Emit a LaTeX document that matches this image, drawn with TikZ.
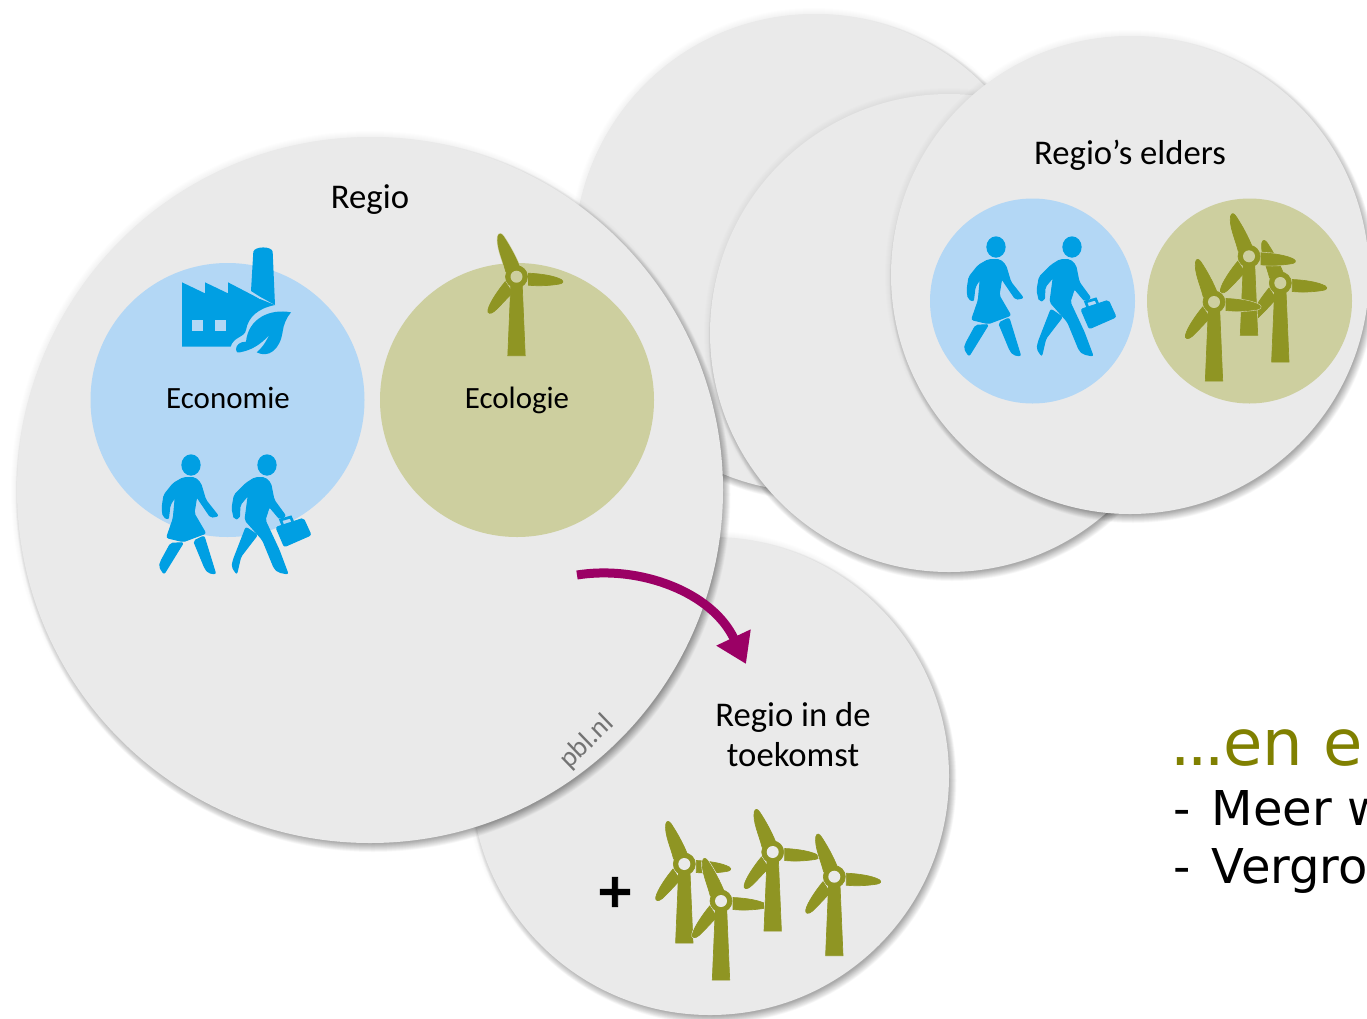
\documentclass[tikz,border=0pt]{standalone}
\usepackage{fontspec}
\setmainfont{Carlito}
\newfontfamily\slidefont{DejaVu Sans}
\newfontfamily\plusfont[BoldFeatures={FakeBold=2}]{DejaVu Sans}
\usepackage{xcolor}
\usetikzlibrary{arrows.meta}
\definecolor{circlecol}{HTML}{EAEAEA}
\definecolor{bluelight}{HTML}{B3D7F5}
\definecolor{blueicon}{HTML}{009FE3}
\definecolor{olivelight}{HTML}{CDCF9F}
\definecolor{oliveicon}{HTML}{8F9523}
\definecolor{arrowcol}{HTML}{9B0065}
\definecolor{slideolive}{HTML}{808000}
\newcommand{\softdisc}[3]{%
  \foreach \i in {1,...,6} {
    \fill [black,opacity=0.008] (#1,#2) circle ({#3+\i});
  }
  \foreach \i in {-4,-3.5,...,4.5} {
    \fill [black,opacity=0.018] (#1+3,#2+4.5) circle ({#3+\i});
  }
  \fill [circlecol] (#1,#2) circle (#3);
}
\newcommand{\turbineparts}[1]{%
  \path [#1] (-10.7,-5) .. controls (-14,-18) and (-20,-30) .. (-18.5,-40) .. controls (-17.5,-44) and (-15,-43) .. (-13,-40) .. controls (-7,-31) and (-1,-20) .. (3,-10) -- cycle;
  \path [#1] (12,-3.5) .. controls (24,-3) and (38,-1) .. (45,3) .. controls (48,5) and (46,7) .. (42,7.5) .. controls (32,9) and (22,9.5) .. (12,8.5) -- cycle;
  \path [#1] (-11.3,5) .. controls (-18,13) and (-27,26) .. (-28.5,33) .. controls (-29.5,37) and (-26,38) .. (-22,34.5) .. controls (-15,28) and (-10,22) .. (-4,16) -- cycle;
  \path [#1] (-5.7,8) -- (5.7,8) -- (8.7,79) -- (-8.7,79) -- cycle;
  \path [#1] (0,0) circle (11);
}
\tikzset{
  labeltext/.style={font=\fontsize{26}{30}\selectfont,inner sep=0pt,anchor=base},
  smalllabel/.style={font=\fontsize{23.2}{28}\selectfont,inner sep=0pt,anchor=base},
  slidetext/.style={font=\slidefont\fontsize{36}{40}\selectfont,inner sep=0pt,anchor=base west},
  bodypart/.style={fill=blueicon,draw=blueicon,line width=0.8pt,rounded corners=1.5pt},
  turbine/.pic={
    \turbineparts{draw=#1,line width=1.4pt}
    \turbineparts{fill=oliveicon,draw=oliveicon,line width=0.5pt}
    \fill [#1] (0,0) circle (6);
  },
  walkers/.pic={
    % woman
    \fill [blueicon] (153,75) ellipse (29 and 32);
    \path [bodypart] (130,113) -- (100,130) -- (72,165) -- (66,205) -- (70,230) -- (85,238) -- (90,195) -- (106,170) -- (100,235) -- (80,293) -- (130,305) -- (197,280) -- (162,220) -- (170,170) -- (212,232) -- (235,228) -- (197,180) -- (182,130) -- (165,113) -- cycle;
    \path [bodypart] (92,310) -- (130,308) -- (72,402) -- (58,380) -- (62,365) -- cycle;
    \path [bodypart] (161,303) -- (192,288) -- (227,402) -- (205,398) -- (195,385) -- cycle;
    % man
    \fill [blueicon] (381,75) ellipse (29 and 32);
    \path [bodypart] (345,113) -- (318,130) -- (283,165) -- (276,205) -- (283,237) -- (298,235) -- (300,195) -- (325,165) -- (315,240) -- (368,300) -- (403,385) -- (415,396) -- (444,402) -- (417,330) -- (375,240) -- (388,200) -- (420,238) -- (437,228) -- (402,180) -- (392,130) -- (375,113) -- cycle;
    \path [bodypart] (318,262) -- (352,285) -- (302,350) -- (290,402) -- (276,380) -- (280,360) -- cycle;
    % briefcase
    \path [bodypart] (408,262) -- (490,235) -- (513,285) -- (433,320) -- cycle;
    \draw [blueicon,line width=2pt] (428,255) -- (422,240) -- (452,231) -- (458,245);
  },
  factory/.pic={
    \fill [blueicon] (126,157) -- (195,190) -- (195,157) -- (264,190) -- (264,157) -- (360,207) -- (405,225) .. controls (355,235) and (325,260) .. (318,300) .. controls (315,322) and (280,320) .. (272,350) -- (126,350) -- cycle;
    \fill [blueicon] (340,65) .. controls (345,48) and (395,48) .. (398,65) -- (405,225) -- (360,200) -- (333,183) -- cycle;
    \draw [bluelight,line width=0.6pt] (333,186) -- (360,206);
    \fill [bluelight] (155,271) rectangle (189,304);
    \fill [bluelight] (224,271) rectangle (259,304);
    % leaf
    \fill [blueicon] (453,247) .. controls (390,235) and (325,265) .. (318,335) .. controls (300,335) and (288,345) .. (288,358) .. controls (290,370) and (295,368) .. (300,367) .. controls (335,360) and (360,345) .. (388,315) .. controls (375,340) and (365,355) .. (350,367) .. controls (385,385) and (420,360) .. (428,305) .. controls (430,285) and (440,262) .. (453,247) -- cycle;
  }
}
\begin{document}
\begin{tikzpicture}[x=0.75pt,y=-0.75pt]
  \useasboundingbox (0,0) rectangle (1367,1018);
  \clip (0,0) rectangle (1367,1018);
  % Circles: regions elsewhere
  \softdisc{814}{253}{239}
  \softdisc{949}{333}{239}
  \softdisc{1130}{275}{239}
  % Circle: future region
  \softdisc{710}{776}{239}
  % Circle: region
  \softdisc{370}{490}{353}
  % Node: economy and ecology
  \fill [bluelight] (227.5,400) circle (137);
  \fill [olivelight] (517,400) circle (137);
  \pic at (140,230) [scale=1/3] {factory};
  \pic at (140,440) [scale=1/3] {walkers};
  \pic at (516.5,276.7) {turbine=olivelight};
  \node [labeltext] (regio) at (370,208) {Regio};
  \node [smalllabel] (economie) at (228,408) {Economie};
  \node [smalllabel] (ecologie) at (517,408) {Ecologie};
  \node [font=\fontsize{21}{24}\selectfont,text=black!55,inner sep=0pt,rotate=44] (pbl) at (587,742) {pbl.nl};
  % Node: regions elsewhere
  \fill [bluelight] (1032.5,301) circle (102.5);
  \fill [olivelight] (1249.5,301) circle (102.5);
  \pic at (945,222) [scale=1/3] {walkers};
  \pic at (1280.3,283) {turbine=olivelight};
  \pic at (1249,256.3) {turbine=olivelight};
  \pic at (1214,302) {turbine=olivelight};
  \node [labeltext] (elders) at (1130,164) {Regio’s elders};
  % Node: future region
  \node [align=center,inner sep=0pt,font=\fontsize{26}{30}\selectfont] (toekomst) at (793,735) {Regio in de\\toekomst};
  \node [font=\plusfont\bfseries\fontsize{35}{35}\selectfont,inner sep=0pt] (plus) at (615,892) {+};
  \pic at (684.3,864) {turbine=circlecol};
  \pic at (721,901) {turbine=circlecol};
  \pic at (772.7,852) {turbine=circlecol};
  \pic at (834.3,876.7) {turbine=circlecol};
  % Edge: regio -> toekomst
  \coordinate (arrowstart) at (577,575);
  \coordinate (arrowend) at (746,664);
  \draw [-{Triangle[length=22pt,width=27pt]},arrowcol,line width=6.75pt] (arrowstart) .. controls (640,565) and (712,592) .. (arrowend);
  % Node: slide text
  \node [slidetext,font=\slidefont\fontsize{48}{54}\selectfont,text=slideolive] (slidehead) at (1170,765) {.\kern-2.5pt.\kern-2.5pt.\kern-1pt en e};
  \node [slidetext] (slidelineone) at (1173,825) {-\kern4.5pt{} Meer w};
  \node [slidetext] (slidelinetwo) at (1173,883) {-\kern4.5pt{} Vergro};
\end{tikzpicture}
\end{document}
